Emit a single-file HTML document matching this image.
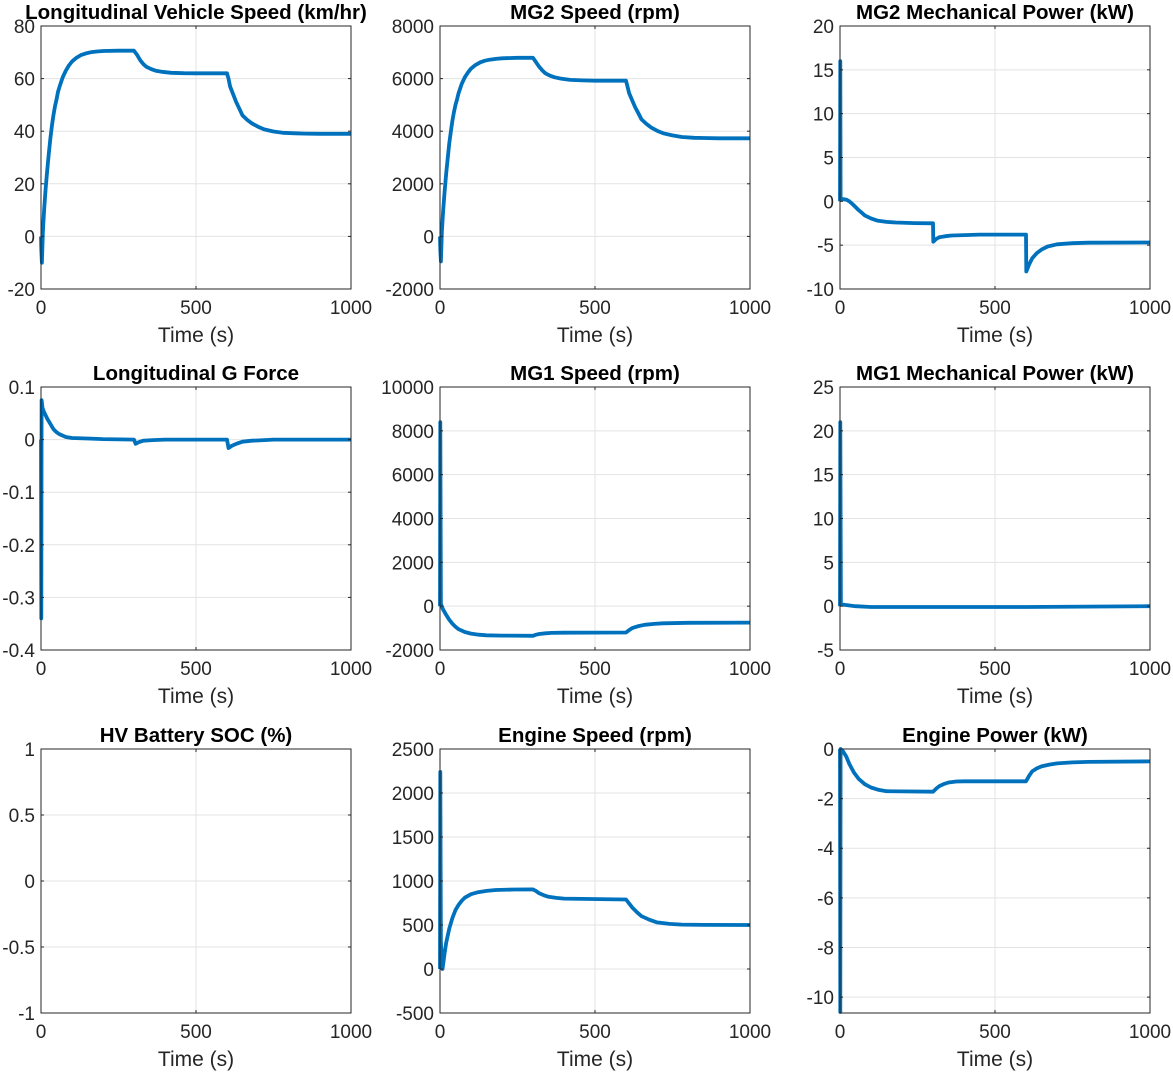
<!DOCTYPE html>
<html><head><meta charset="utf-8"><style>
body{margin:0;background:#fff;}
svg{display:block;font-family:"Liberation Sans",Arial,sans-serif;}
</style></head><body>
<svg id="fig" width="1173" height="1072" viewBox="0 0 1173 1072"></svg>
<script>
// ---- data arrays ----
const vsT=[0,1,3,6,10,15,20,25,30,35,40,45,50,55,60,70,80,90,100,115,130,145,160,180,200,250,300,310,320,330,340,355,370,390,420,460,500,600,605,610,620,630,640,650,665,680,700,720,750,780,820,850,900,1000];
const vsV=[0,-5,-10,2,10,18,25,31.5,37,42,46,49.5,52,55,57,60.5,63,65,66.5,68,69,69.6,70,70.3,70.5,70.6,70.6,69,67,65.5,64.5,63.6,63,62.6,62.2,62.05,62,62,60,57,54,51,48.5,46,44.3,43,41.7,40.7,39.9,39.4,39.2,39.1,39,39];
const m2T=[0,1,3,6,10,15,20,25,30,35,40,45,50,55,60,70,80,90,100,115,130,145,160,180,200,250,300,310,320,330,340,355,370,390,420,460,500,600,605,610,620,630,640,650,665,680,700,720,750,780,820,850,900,1000];
const m2V=[0,-500,-950,200,950,1700,2400,3000,3550,4000,4400,4720,5000,5220,5450,5800,6050,6230,6380,6520,6620,6680,6720,6750,6770,6790,6790,6620,6450,6310,6200,6110,6050,6000,5950,5930,5920,5920,5700,5450,5170,4900,4680,4450,4290,4150,4020,3920,3840,3780,3750,3740,3730,3730];
const m2pT=[0,1,2,20,30,40,50,60,70,80,100,120,150,180,240,300,301,310,320,340,360,400,450,600,601,610,620,635,650,670,700,750,800,1000];
const m2pV=[0,16,0.3,0.2,0,-0.3,-0.65,-1,-1.3,-1.6,-1.95,-2.2,-2.35,-2.42,-2.48,-2.5,-4.6,-4.3,-4.1,-3.98,-3.9,-3.85,-3.8,-3.8,-8,-7.2,-6.5,-5.9,-5.5,-5.15,-4.9,-4.78,-4.72,-4.7];
const gT=[0,1,2,5,10,20,30,40,50,60,80,100,150,200,300,305,315,330,360,400,600,605,615,630,650,680,720,750,1000];
const gV=[0,-0.34,0.075,0.06,0.052,0.04,0.03,0.02,0.014,0.01,0.005,0.003,0.002,0.001,0,-0.008,-0.005,-0.002,-0.001,0,0,-0.016,-0.012,-0.008,-0.004,-0.002,-0.001,0,0];
const m1T=[0,1,3,10,20,30,40,50,60,80,100,125,150,200,300,310,320,340,360,400,600,610,620,640,660,690,720,800,1000];
const m1V=[0,8400,100,-150,-400,-620,-800,-940,-1050,-1180,-1250,-1300,-1330,-1345,-1350,-1300,-1270,-1240,-1220,-1210,-1200,-1090,-1000,-910,-850,-810,-780,-760,-750];
const m1pT=[0,1,3,50,100,600,1000];
const m1pV=[0,21,0.2,0,-0.1,-0.1,0];
const socT=[];
const socV=[];
const esT=[0,1,3,8,15,20,30,40,50,60,70,80,100,120,150,180,240,300,310,320,335,350,375,400,600,610,620,635,650,675,700,740,780,850,1000];
const esV=[0,2240,300,0,180,300,460,580,670,730,775,810,850,870,888,898,903,905,885,860,838,820,808,800,790,745,700,645,600,560,530,512,505,501,500];
const epT=[0,1,2,10,20,30,45,60,80,100,125,150,200,300,310,320,335,350,375,400,600,610,620,635,650,675,700,750,800,1000];
const epV=[0,-10.6,0,-0.1,-0.3,-0.6,-0.95,-1.2,-1.42,-1.55,-1.65,-1.7,-1.71,-1.72,-1.6,-1.5,-1.41,-1.35,-1.31,-1.3,-1.3,-1.08,-0.9,-0.78,-0.7,-0.63,-0.58,-0.54,-0.52,-0.5];
const xTicks=[0,500,1000];
const plots=[
 {name:'vehicle-speed',title:'Longitudinal Vehicle Speed (km/hr)',col:0,row:0,ymin:-20,ymax:80,yt:[-20,0,20,40,60,80],t:vsT,v:vsV},
 {name:'mg2-speed',title:'MG2 Speed (rpm)',col:1,row:0,ymin:-2000,ymax:8000,yt:[-2000,0,2000,4000,6000,8000],t:m2T,v:m2V},
 {name:'mg2-power',title:'MG2 Mechanical Power (kW)',col:2,row:0,ymin:-10,ymax:20,yt:[-10,-5,0,5,10,15,20],t:m2pT,v:m2pV},
 {name:'g-force',title:'Longitudinal G Force',col:0,row:1,ymin:-0.4,ymax:0.1,yt:[-0.4,-0.3,-0.2,-0.1,0,0.1],t:gT,v:gV},
 {name:'mg1-speed',title:'MG1 Speed (rpm)',col:1,row:1,ymin:-2000,ymax:10000,yt:[-2000,0,2000,4000,6000,8000,10000],t:m1T,v:m1V},
 {name:'mg1-power',title:'MG1 Mechanical Power (kW)',col:2,row:1,ymin:-5,ymax:25,yt:[-5,0,5,10,15,20,25],t:m1pT,v:m1pV},
 {name:'battery-soc',title:'HV Battery SOC (%)',col:0,row:2,ymin:-1,ymax:1,yt:[-1,-0.5,0,0.5,1],t:socT,v:socV},
 {name:'engine-speed',title:'Engine Speed (rpm)',col:1,row:2,ymin:-500,ymax:2500,yt:[-500,0,500,1000,1500,2000,2500],t:esT,v:esV},
 {name:'engine-power',title:'Engine Power (kW)',col:2,row:2,ymin:-10.64,ymax:0,yt:[-10,-8,-6,-4,-2,0],t:epT,v:epV}
];
const colX=[41,440,840], rowT=[26,387,749], rowB=[289,650,1013], W=310;
const svg=document.getElementById('fig');
const NS='http://www.w3.org/2000/svg';
function mk(tag,attrs,parent){const e=document.createElementNS(NS,tag);for(const k in attrs)e.setAttribute(k,attrs[k]);parent.appendChild(e);return e;}
plots.forEach(p=>{
 const x0=colX[p.col],x1=x0+W,y0=rowT[p.row],y1=rowB[p.row];
 const sx=t=>x0+(t-0)/1000*W, sy=v=>y1-(v-p.ymin)/(p.ymax-p.ymin)*(y1-y0);
 const g=mk('g',{},svg);
 
 
 xTicks.forEach(t=>{const l=mk('line',{x1:sx(t),x2:sx(t),y1:y0,y2:y1,stroke:'#e3e3e3','stroke-width':1},g);
  });
 p.yt.forEach(v=>{const l=mk('line',{x1:x0,x2:x1,y1:sy(v),y2:sy(v),stroke:'#e3e3e3','stroke-width':1},g);
  });
 if(p.t.length){
  const d=p.t.map((t,i)=>(i?'L':'M')+sx(t).toFixed(1)+','+sy(p.v[i]).toFixed(1)).join(' ');
  const path=mk('path',{d:d,fill:'none',stroke:'#0072BD','stroke-width':3.8,'stroke-linejoin':'round'},g);
  
  
 }
 const r=mk('rect',{x:x0,y:y0,width:W,height:y1-y0,fill:'none',stroke:'#262626','stroke-width':1},g);
 
 xTicks.forEach(t=>{
  mk('line',{x1:sx(t),x2:sx(t),y1:y1,y2:y1-3,stroke:'#262626'},g);
  mk('line',{x1:sx(t),x2:sx(t),y1:y0,y2:y0+3,stroke:'#262626'},g);
  const tx=mk('text',{x:sx(t),y:y1+25,'text-anchor':'middle','font-size':19,fill:'#262626'},g);tx.textContent=t;
  
 });
 p.yt.forEach(v=>{
  mk('line',{x1:x0,x2:x0+3,y1:sy(v),y2:sy(v),stroke:'#262626'},g);
  mk('line',{x1:x1,x2:x1-3,y1:sy(v),y2:sy(v),stroke:'#262626'},g);
  const tx=mk('text',{x:x0-6,y:sy(v)+7,'text-anchor':'end','font-size':19,fill:'#262626'},g);tx.textContent=v;
  
 });
 const xl=mk('text',{x:x0+W/2,y:y1+53,'text-anchor':'middle','font-size':21,fill:'#262626'},g);xl.textContent='Time (s)';
 
 const ti=mk('text',{x:x0+W/2,y:y0-7,'text-anchor':'middle','font-size':20.5,'font-weight':'bold',fill:'#000'},g);ti.textContent=p.title;
 
});
</script>
</body></html>
